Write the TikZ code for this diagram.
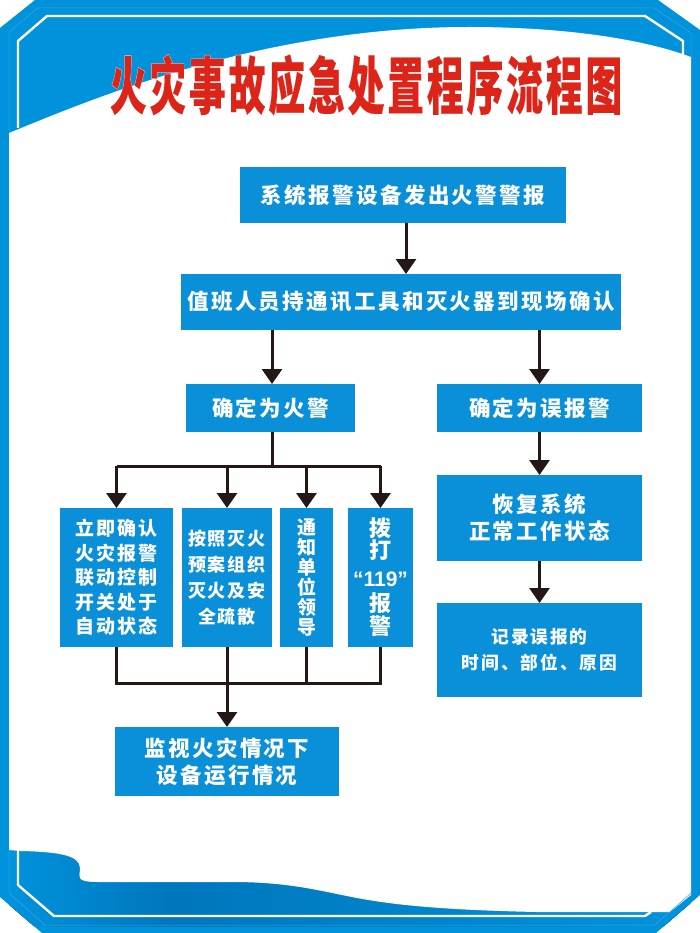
\documentclass[tikz,border=0pt]{standalone}
\usepackage{fontspec}
\usepackage{tikz}
\usetikzlibrary{positioning,arrows.meta}
\newfontfamily\bodyfont[LetterSpace=11]{Noto Sans CJK SC}
\newfontfamily\singlefont{Noto Sans CJK SC}
\newfontfamily\numfont{Liberation Sans}
\newfontfamily\titlefont[FakeBold=0.3,LetterSpace=8]{Noto Sans CJK SC}
\newfontfamily\halofont[FakeBold=1.6,LetterSpace=8]{Noto Sans CJK SC}
\definecolor{frameblue}{HTML}{0093DC}
\definecolor{deepblue}{HTML}{0076BC}
\definecolor{edgeblue}{HTML}{35A9E2}
\definecolor{boxblue}{HTML}{0A90D8}
\definecolor{titlered}{HTML}{DC2419}
\definecolor{arrowblack}{HTML}{231815}

\begin{document}
\begin{tikzpicture}[
        x=1pt, y=-1pt,
        flowbox/.style={fill=boxblue, text=white, align=center, inner sep=0pt, outer sep=0pt, font=\bodyfont\bfseries\fontsize{21.5}{27}\selectfont},
        smallbox/.style={flowbox, minimum height=139pt, font=\bodyfont\bfseries\fontsize{19}{24.5}\selectfont},
        wirebox/.style={smallbox, font=\bodyfont\bfseries\fontsize{19}{20}\selectfont},
        flowline/.style={line width=3pt, draw=arrowblack},
        flowarrow/.style={flowline, -{Triangle[width=20pt,length=15pt]}},
        whiteline/.style={line width=2.4pt, draw=white},
        edgeline/.style={line width=0.5pt, draw=edgeblue},
        titletext/.style={inner sep=0pt, transform shape, yscale=1.7},
]
        % frame and waves
        \useasboundingbox (0,0) rectangle (700,933);
        \fill[frameblue] (35,0) -- (658,0) -- (700,30) -- (700,895) -- (656,933) -- (42,933) -- (0,897) -- (0,28) -- cycle;
        \begin{scope}
            \clip (700,895) -- (656,933) -- (42,933) -- (0,897) -- (0,845) -- (700,845) -- cycle;
            \fill[left color=frameblue, right color=deepblue] (9,850) rectangle (171,926);
            \fill[left color=deepblue, right color=frameblue] (170,850) rectangle (691,926);
        \end{scope}
        \fill[white] (9,133) .. controls (90,100) and (260,27) .. (469,27) .. controls (560,27) and (640,38) .. (691,57)
                -- (691,895) -- (670,912) -- (536,912) .. controls (450,910) and (400,906) .. (357,898)
                .. controls (320,891) and (290,882) .. (232,882) -- (98,882) .. controls (74,882) and (80,876) .. (80,870)
                .. controls (80,860) and (76,852) .. (20,851) -- (9,850) -- cycle;
        \draw[edgeline] (9,133) -- (9,32) -- (38,8) -- (654,8) -- (691,33) -- (691,57);
        \draw[edgeline] (9,850) -- (9,893) -- (45,925) -- (655,925) -- (691,893);
        \draw[whiteline] (18,128) -- (18,41) -- (47,16) -- (645,16) -- (683,41) -- (683,55);
        \draw[whiteline] (18,851) -- (18,885) -- (54,916) -- (645,916) -- (651,912);

        % title
        \node[titletext, text=white, font=\halofont\bfseries\fontsize{36.7}{40}\selectfont] (titlehalo) at (366,85) {火灾事故应急处置程序流程图};
        \node[titletext, text=titlered, font=\titlefont\bfseries\fontsize{36.7}{40}\selectfont] (title) at (366,85) {火灾事故应急处置程序流程图};

        % main flow
        \node[flowbox, minimum width=326pt, minimum height=56pt] (sysalarm) at (403,195) {系统报警设备发出火警警报};
        \node[flowbox, minimum width=440pt, minimum height=56pt] (verify) at (401,302) {值班人员持通讯工具和灭火器到现场确认};
        \node[flowbox, minimum width=169pt, minimum height=48pt] (confirm) at (270.5,408) {确定为火警};
        \node[flowbox, minimum width=205pt, minimum height=48pt] (falsealarm) at (539.5,408) {确定为误报警};
        \node[flowbox, minimum width=205pt, minimum height=86pt, below=43pt of falsealarm] (restore) {恢复系统\\正常工作状态};
        \node[flowbox, minimum width=205pt, minimum height=94pt, below=42pt of restore, font=\bodyfont\bfseries\fontsize{17.7}{26}\selectfont] (record) {记录误报的\\时间、部位、原因};

        % four actions
        \node[smallbox, minimum width=113pt] (linkage) at (116.5,577.5) {立即确认\\火灾报警\\联动控制\\开关处于\\自动状态};
        \node[smallbox, minimum width=90pt, right=9pt of linkage, font=\bodyfont\bfseries\fontsize{18}{26}\selectfont] (evacuate) {按照灭火\\预案组织\\灭火及安\\全疏散};
        \node[wirebox, minimum width=53pt, right=8pt of evacuate] (notify) {通\\知\\单\\位\\领\\导};
        \node[wirebox, minimum width=65pt, right=15pt of notify, font=\singlefont\bfseries\fontsize{22}{25}\selectfont] (dial) {拨\\[-3pt]打\\[3pt]{\numfont\fontsize{21}{25}\selectfont “119”}\\报\\[-2pt]警};
        \node[flowbox, minimum width=224pt, minimum height=69pt] (monitor) at (227,761.5) {监视火灾情况下\\设备运行情况};

        \coordinate (splitbus) at (272,466);
        \coordinate (joinbus) at (227,683);

        \draw[flowarrow] ([xshift=3pt]sysalarm.south) -- ([xshift=3pt]sysalarm.south |- verify.north);
        \draw[flowarrow] (splitbus |- verify.south) -- (splitbus |- confirm.north);
        \draw[flowarrow] (falsealarm.north |- verify.south) -- (falsealarm.north);
        \draw[flowarrow] (falsealarm.south) -- (restore.north);
        \draw[flowarrow] (restore.south) -- (record.north);

        \draw[flowline] (splitbus |- confirm.south) -- (splitbus);
        \draw[flowline] (linkage.north |- splitbus) -- (dial.north |- splitbus);
        \draw[flowarrow] (linkage.north |- splitbus) -- (linkage.north);
        \draw[flowarrow] (evacuate.north |- splitbus) -- (evacuate.north);
        \draw[flowarrow] (notify.north |- splitbus) -- (notify.north);
        \draw[flowarrow] (dial.north |- splitbus) -- (dial.north);

        \draw[flowline] (linkage.south) -- (linkage.south |- joinbus) -- (dial.south |- joinbus) -- (dial.south);
        \draw[flowline] (notify.south) -- (notify.south |- joinbus);
        \draw[flowarrow] (evacuate.south) -- (monitor.north);
\end{tikzpicture}
\end{document}
